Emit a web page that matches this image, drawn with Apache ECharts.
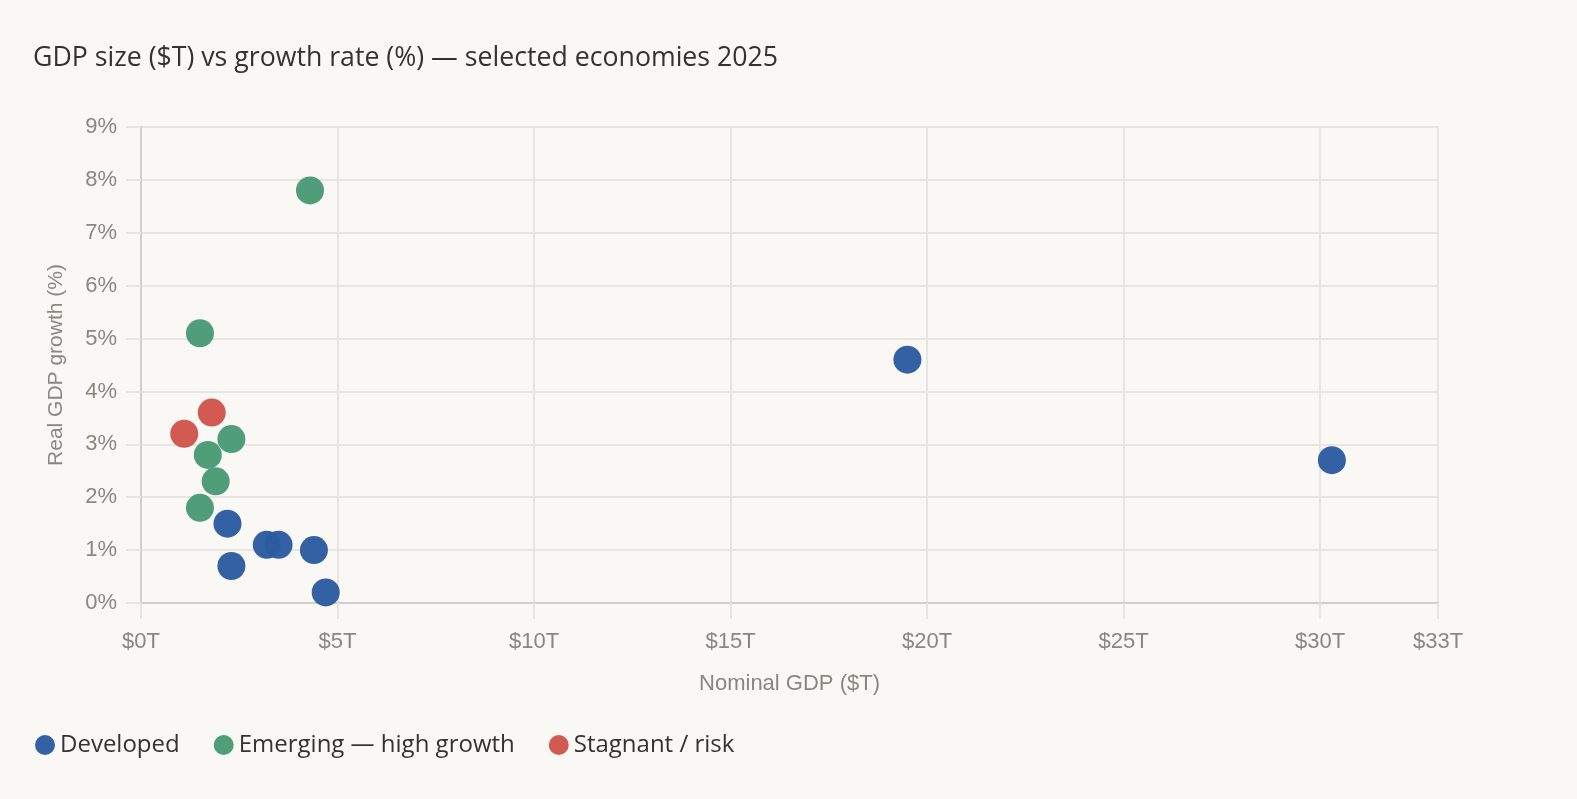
<!DOCTYPE html>
<html>
<head>
<meta charset="utf-8">
<script src="https://cdn.jsdelivr.net/npm/echarts@6/dist/echarts.min.js"></script>
<style>
  html, body { margin: 0; padding: 0; background: #f9f8f4; }
  #chart { width: 1577px; height: 799px; }
</style>
</head>
<body>
<div id="chart"></div>
<script>
// values: [nominal GDP $T, real growth %]
var developed = [
  [19.5, 4.6], [30.3, 2.7], [2.2, 1.5], [3.2, 1.1],
  [3.5, 1.1], [4.4, 1.0], [2.3, 0.7], [4.7, 0.2]
];
var emerging = [
  [4.3, 7.8], [1.5, 5.1], [2.3, 3.1], [1.7, 2.8], [1.9, 2.3], [1.5, 1.8]
];
var stagnant = [
  [1.8, 3.6], [1.1, 3.2]
];
var seriesNames = ['Developed', 'Emerging — high growth', 'Stagnant / risk'];
var colors = ['#2c5ca0', '#4a9a76', '#d0554d'];

var labelColor = '#8a8780';
var gridColor = '#e7e5e0';
var axisColor = '#d2cfca';
var textFont = '"Open Sans", Roboto, sans-serif';
var axisFont = '"Liberation Sans", Arial, sans-serif';

var chart = echarts.init(document.getElementById('chart'));

function scatter(name, data, color) {
  return {
    name: name,
    type: 'scatter',
    data: data,
    symbolSize: 28,
    itemStyle: { color: color, opacity: 0.97 }
  };
}

chart.setOption({
  backgroundColor: '#f9f8f4',
  animation: false,
  title: {
    text: 'GDP size ($T) vs growth rate (%) — selected economies 2025',
    left: 28, top: 40,
    textStyle: { fontFamily: textFont, fontSize: 26.7, fontWeight: 'normal', color: '#333' }
  },
  legend: {
    left: 30, top: 728,
    icon: 'circle',
    itemWidth: 20, itemHeight: 20,
    itemGap: 34,
    textStyle: { fontFamily: textFont, fontSize: 24, color: '#333' },
    data: seriesNames
  },
  grid: { left: 141, right: 139, top: 127, bottom: 196 },
  xAxis: {
    type: 'value',
    min: 0, max: 33, interval: 5,
    name: 'Nominal GDP ($T)',
    nameLocation: 'middle',
    nameGap: 70,
    nameTextStyle: { fontFamily: axisFont, fontSize: 22, color: labelColor },
    axisLine: { show: true, lineStyle: { color: axisColor, width: 2 } },
    axisTick: { show: true, length: 16, lineStyle: { color: gridColor, width: 2 } },
    axisLabel: {
      margin: 28, fontFamily: axisFont, fontSize: 22, color: labelColor,
      showMaxLabel: true,
      formatter: function (v) { return '$' + v + 'T'; }
    },
    splitLine: { show: true, lineStyle: { color: gridColor, width: 2 } }
  },
  yAxis: {
    type: 'value',
    min: 0, max: 9, interval: 1,
    name: 'Real GDP growth (%)',
    nameLocation: 'middle',
    nameGap: 74,
    nameTextStyle: { fontFamily: axisFont, fontSize: 21, color: labelColor },
    axisLine: { show: true, lineStyle: { color: axisColor, width: 2 } },
    axisTick: { show: true, length: 15, lineStyle: { color: gridColor, width: 2 } },
    axisLabel: {
      margin: 24, fontFamily: axisFont, fontSize: 22, color: labelColor,
      formatter: function (v) { return v + '%'; }
    },
    splitLine: { show: true, lineStyle: { color: gridColor, width: 2 } }
  },
  series: [
    scatter(seriesNames[0], developed, colors[0]),
    scatter(seriesNames[1], emerging, colors[1]),
    scatter(seriesNames[2], stagnant, colors[2])
  ]
});
</script>
</body>
</html>
